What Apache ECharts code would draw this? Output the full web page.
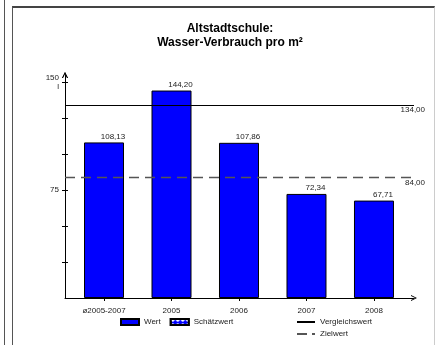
<!DOCTYPE html>
<html>
<head>
<meta charset="utf-8">
<script src="https://cdn.jsdelivr.net/npm/echarts@6/dist/echarts.min.js"></script>
<style>
  html, body { margin: 0; padding: 0; background: #fff; }
  #chart { position: absolute; left: 0; top: 0; width: 435px; height: 345px; }
  .rule { position: absolute; left: 4px; top: 0; width: 0; height: 345px; border-left: 1.5px solid #555; }
  .frame { position: absolute; left: 12px; top: 6px; width: 421px; height: 345px;
           border-left: 1.5px solid #555; border-top: 2px solid #444; border-right: 1px solid #ccc; }
</style>
</head>
<body>
<div class="rule"></div>
<div class="frame"></div>
<div id="chart"></div>
<script>
// Water consumption per m² (litres)
const categories = ['ø2005-2007', '2005', '2006', '2007', '2008'];
const values = [108.13, 144.20, 107.86, 72.34, 67.71];
const estimates = [];            // no estimated values this period
const comparisonValue = 134.00;  // Vergleichswert
const targetValue = 84.00;       // Zielwert
const yTickValues = [25, 50, 75, 100, 125, 150];
const yLabelValues = [75, 150];
const yUnit = 'l';

const FONT = 'Liberation Sans, Arial, sans-serif';
const TEXT = '#222';
const fmt = v => v.toFixed(2).replace('.', ',');
// open chevron used as axis arrow head
const chevron = 'path://M5,0 L10,10 L8.4,10 L5,3 L1.6,10 L0,10 Z';

// x axis measured in category slots; the value axis stands at slot 0,
// the first category follows after a lead gap
const leadGap = 0.578;
const positions = categories.map((c, i) => leadGap + i);
const plotBox = { left: 65, right: 21, top: 75, bottom: 47 };
// narrow helper grid whose right edge is the value axis: carries the axis
// line, its arrow and the inner half of the crossing ticks
const axisBox = { left: 20, right: 435 - 65, top: 75, bottom: 47 };
const xMin = 0, xMax = 5.171, yMax = 155;

const chart = echarts.init(document.getElementById('chart'), null, { renderer: 'canvas' });

chart.setOption({
  animation: false,
  textStyle: { fontFamily: FONT },
  title: {
    text: 'Altstadtschule:\nWasser-Verbrauch pro m²',
    left: 225, top: 17, textAlign: 'center',
    textStyle: { fontSize: 12, fontWeight: 'bold', lineHeight: 14, color: '#000', fontFamily: FONT }
  },
  grid: [
    Object.assign({ containLabel: false }, plotBox),
    Object.assign({ containLabel: false }, axisBox)
  ],
  legend: [
    {
      data: [{ name: 'Wert', icon: 'rect' }, { name: 'Schätzwert', icon: 'rect' }],
      left: 120, top: 318, padding: 0,
      itemWidth: 18, itemHeight: 6, itemGap: 9,
      textStyle: { fontSize: 8, color: TEXT, fontFamily: FONT },
      selectedMode: false
    },
    {
      data: ['Vergleichswert', 'Zielwert'],
      orient: 'vertical',
      left: 296, top: 318, padding: 0,
      itemWidth: 18, itemHeight: 8, itemGap: 4,
      itemStyle: { color: 'transparent', borderWidth: 0, opacity: 0 },
      textStyle: { fontSize: 8, color: TEXT, fontFamily: FONT },
      selectedMode: false
    }
  ],
  xAxis: [
    {
      type: 'value', gridIndex: 0, min: xMin, max: xMax,
      axisLine: { show: true, symbol: ['none', chevron], symbolSize: [7, 6],
                  lineStyle: { color: '#000', width: 1 } },
      axisTick: { show: true, customValues: positions, length: 3,
                  lineStyle: { color: '#000' } },
      axisLabel: { customValues: positions,
                   formatter: v => categories[Math.round(v - leadGap)],
                   fontSize: 8, margin: 9, color: TEXT, fontFamily: FONT },
      splitLine: { show: false }
    },
    {
      type: 'value', gridIndex: 1, min: 0, max: 1, show: false
    }
  ],
  yAxis: [
    {
      type: 'value', gridIndex: 0, min: 0, max: yMax,
      axisLine: { show: true, symbol: ['none', chevron], symbolSize: [7, 6],
                  lineStyle: { color: '#000', width: 1 } },
      axisTick: { show: true, customValues: yTickValues, length: 3,
                  lineStyle: { color: '#000' } },
      axisLabel: { customValues: yLabelValues,
                   formatter: v => v === 150 ? '150\n' + yUnit : String(v),
                   fontSize: 8, lineHeight: 9, margin: 6, color: TEXT, fontFamily: FONT },
      splitLine: { show: false }
    },
    {
      type: 'value', gridIndex: 1, min: 0, max: yMax, position: 'right',
      axisLine: { show: true, onZero: false, symbol: ['none', chevron], symbolSize: [7, 6],
                  lineStyle: { color: '#000', width: 1 } },
      axisTick: { show: true, inside: false, customValues: yTickValues, length: 3,
                  lineStyle: { color: '#000' } },
      axisLabel: { show: false },
      splitLine: { show: false }
    }
  ],
  series: [
    {
      name: 'Wert', type: 'bar', xAxisIndex: 0, yAxisIndex: 0,
      barWidth: 40, barGap: '-100%',
      data: values.map((v, i) => [positions[i], v]),
      itemStyle: { color: '#0000ff', borderColor: '#000', borderWidth: 1 },
      label: { show: true, position: 'top', distance: 2, offset: [9, 0],
               formatter: p => fmt(p.value[1]),
               fontSize: 8, color: TEXT, fontFamily: FONT },
      z: 3
    },
    {
      name: 'Schätzwert', type: 'bar', xAxisIndex: 0, yAxisIndex: 0,
      barWidth: 40, barGap: '-100%',
      data: estimates,
      itemStyle: {
        color: '#0000ff', borderColor: '#000', borderWidth: 1,
        decal: { symbol: 'diamond', color: '#fff', symbolSize: 1, dashArrayX: [4, 1], dashArrayY: [3, 1] }
      }
    },
    {
      name: 'Vergleichswert', type: 'line', xAxisIndex: 0, yAxisIndex: 0,
      data: [], symbol: 'none',
      lineStyle: { color: '#000', width: 1, type: 'solid' },
      markLine: {
        silent: true, symbol: ['none', 'none'],
        lineStyle: { color: '#000', width: 1, type: 'solid' },
        label: { show: true, position: 'insideEndBottom', distance: [-11, 1],
                 formatter: p => fmt(p.value), fontSize: 8, color: TEXT, fontFamily: FONT },
        data: [{ yAxis: comparisonValue }]
      }
    },
    {
      name: 'Zielwert', type: 'line', xAxisIndex: 0, yAxisIndex: 0,
      data: [], symbol: 'none',
      lineStyle: { color: '#555', width: 1.3, type: [10, 5] },
      markLine: {
        silent: true, symbol: ['none', 'none'],
        lineStyle: { color: '#555', width: 1.3, type: [10, 6] },
        label: { show: true, position: 'insideEndBottom', distance: [-11, 2],
                 formatter: p => fmt(p.value), fontSize: 8, color: TEXT, fontFamily: FONT },
        data: [{ yAxis: targetValue }]
      }
    }
  ]
});
</script>
</body>
</html>
